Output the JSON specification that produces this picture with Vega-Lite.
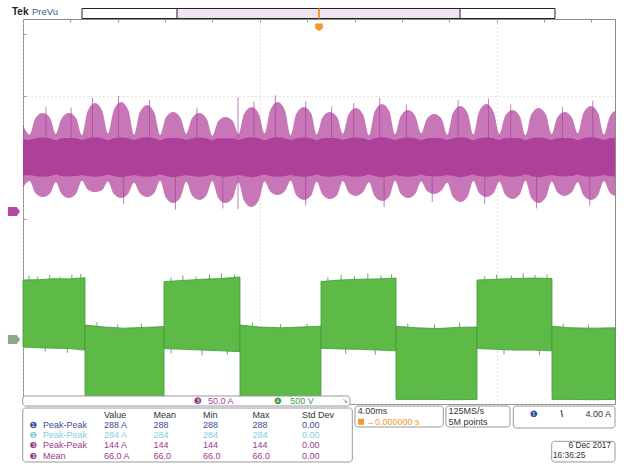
{
  "$schema": "https://vega.github.io/schema/vega-lite/v6.json",
  "width": 592,
  "height": 385,
  "autosize": {"type": "none"},
  "padding": {"left": 23, "top": 19, "right": 9, "bottom": 61},
  "background": "white",
  "config": {"view": {"stroke": "#8c8c8c"}, "font": "Liberation Sans"},
  "datasets": {
    "mag": [
      {"t": -20, "top": 2.25, "bot": 0.62, "ct": 1.88, "cb": 0.93},
      {"t": -19.551, "top": 2.0, "bot": 0.79, "ct": 1.86, "cb": 0.95},
      {"t": -19.169, "top": 2.42, "bot": 0.48, "ct": 1.9, "cb": 0.92},
      {"t": -18.669, "top": 2.558, "bot": 0.377, "ct": 1.92, "cb": 0.9},
      {"t": -18.169, "top": 2.43, "bot": 0.47, "ct": 1.9, "cb": 0.92},
      {"t": -17.787, "top": 2.02, "bot": 0.76, "ct": 1.85, "cb": 0.96},
      {"t": -17.405, "top": 2.41, "bot": 0.46, "ct": 1.9, "cb": 0.92},
      {"t": -16.905, "top": 2.558, "bot": 0.351, "ct": 1.91, "cb": 0.91},
      {"t": -16.405, "top": 2.42, "bot": 0.47, "ct": 1.9, "cb": 0.92},
      {"t": -16.024, "top": 1.98, "bot": 0.8, "ct": 1.86, "cb": 0.95},
      {"t": -15.642, "top": 2.6, "bot": 0.58, "ct": 1.9, "cb": 0.92},
      {"t": -15.142, "top": 2.818, "bot": 0.506, "ct": 1.93, "cb": 0.9},
      {"t": -14.642, "top": 2.61, "bot": 0.56, "ct": 1.9, "cb": 0.92},
      {"t": -14.26, "top": 2.03, "bot": 0.78, "ct": 1.85, "cb": 0.96},
      {"t": -13.878, "top": 2.62, "bot": 0.46, "ct": 1.9, "cb": 0.92},
      {"t": -13.378, "top": 2.844, "bot": 0.351, "ct": 1.92, "cb": 0.89},
      {"t": -12.878, "top": 2.63, "bot": 0.47, "ct": 1.9, "cb": 0.92},
      {"t": -12.497, "top": 2.0, "bot": 0.75, "ct": 1.86, "cb": 0.95},
      {"t": -12.115, "top": 2.57, "bot": 0.48, "ct": 1.9, "cb": 0.92},
      {"t": -11.615, "top": 2.766, "bot": 0.377, "ct": 1.93, "cb": 0.9},
      {"t": -11.115, "top": 2.56, "bot": 0.49, "ct": 1.9, "cb": 0.92},
      {"t": -10.733, "top": 1.99, "bot": 0.8, "ct": 1.85, "cb": 0.96},
      {"t": -10.351, "top": 2.44, "bot": 0.36, "ct": 1.9, "cb": 0.92},
      {"t": -9.851, "top": 2.584, "bot": 0.221, "ct": 1.91, "cb": 0.89},
      {"t": -9.351, "top": 2.43, "bot": 0.37, "ct": 1.9, "cb": 0.92},
      {"t": -8.97, "top": 2.02, "bot": 0.77, "ct": 1.86, "cb": 0.95},
      {"t": -8.588, "top": 2.42, "bot": 0.42, "ct": 1.9, "cb": 0.92},
      {"t": -8.088, "top": 2.558, "bot": 0.299, "ct": 1.92, "cb": 0.9},
      {"t": -7.588, "top": 2.41, "bot": 0.43, "ct": 1.9, "cb": 0.92},
      {"t": -7.206, "top": 1.97, "bot": 0.79, "ct": 1.85, "cb": 0.96},
      {"t": -6.824, "top": 2.34, "bot": 0.36, "ct": 1.9, "cb": 0.92},
      {"t": -6.324, "top": 2.455, "bot": 0.221, "ct": 1.9, "cb": 0.9},
      {"t": -5.824, "top": 2.35, "bot": 0.35, "ct": 1.9, "cb": 0.92},
      {"t": -5.443, "top": 2.01, "bot": 0.76, "ct": 1.86, "cb": 0.95},
      {"t": -5.061, "top": 2.54, "bot": 0.28, "ct": 1.9, "cb": 0.92},
      {"t": -4.561, "top": 2.714, "bot": 0.117, "ct": 1.93, "cb": 0.89},
      {"t": -4.061, "top": 2.53, "bot": 0.29, "ct": 1.9, "cb": 0.92},
      {"t": -3.679, "top": 2.03, "bot": 0.78, "ct": 1.85, "cb": 0.96},
      {"t": -3.297, "top": 2.63, "bot": 0.52, "ct": 1.9, "cb": 0.92},
      {"t": -2.797, "top": 2.844, "bot": 0.429, "ct": 1.93, "cb": 0.9},
      {"t": -2.297, "top": 2.62, "bot": 0.53, "ct": 1.9, "cb": 0.92},
      {"t": -1.916, "top": 1.99, "bot": 0.8, "ct": 1.86, "cb": 0.95},
      {"t": -1.534, "top": 2.54, "bot": 0.42, "ct": 1.9, "cb": 0.92},
      {"t": -1.034, "top": 2.714, "bot": 0.299, "ct": 1.92, "cb": 0.9},
      {"t": -0.534, "top": 2.55, "bot": 0.41, "ct": 1.9, "cb": 0.92},
      {"t": -0.152, "top": 2.0, "bot": 0.77, "ct": 1.85, "cb": 0.96},
      {"t": 0.23, "top": 2.44, "bot": 0.44, "ct": 1.9, "cb": 0.92},
      {"t": 0.73, "top": 2.584, "bot": 0.325, "ct": 1.91, "cb": 0.9},
      {"t": 1.23, "top": 2.45, "bot": 0.43, "ct": 1.9, "cb": 0.92},
      {"t": 1.612, "top": 2.02, "bot": 0.79, "ct": 1.86, "cb": 0.95},
      {"t": 1.993, "top": 2.52, "bot": 0.5, "ct": 1.9, "cb": 0.92},
      {"t": 2.493, "top": 2.688, "bot": 0.403, "ct": 1.92, "cb": 0.9},
      {"t": 2.993, "top": 2.51, "bot": 0.51, "ct": 1.9, "cb": 0.92},
      {"t": 3.375, "top": 1.98, "bot": 0.76, "ct": 1.85, "cb": 0.96},
      {"t": 3.757, "top": 2.59, "bot": 0.4, "ct": 1.9, "cb": 0.92},
      {"t": 4.257, "top": 2.792, "bot": 0.273, "ct": 1.93, "cb": 0.89},
      {"t": 4.757, "top": 2.6, "bot": 0.39, "ct": 1.9, "cb": 0.92},
      {"t": 5.139, "top": 2.01, "bot": 0.8, "ct": 1.86, "cb": 0.95},
      {"t": 5.52, "top": 2.48, "bot": 0.46, "ct": 1.9, "cb": 0.92},
      {"t": 6.02, "top": 2.636, "bot": 0.351, "ct": 1.92, "cb": 0.9},
      {"t": 6.52, "top": 2.47, "bot": 0.47, "ct": 1.9, "cb": 0.92},
      {"t": 6.902, "top": 2.03, "bot": 0.78, "ct": 1.85, "cb": 0.96},
      {"t": 7.284, "top": 2.4, "bot": 0.54, "ct": 1.9, "cb": 0.92},
      {"t": 7.784, "top": 2.532, "bot": 0.455, "ct": 1.91, "cb": 0.91},
      {"t": 8.284, "top": 2.41, "bot": 0.55, "ct": 1.9, "cb": 0.92},
      {"t": 8.666, "top": 1.99, "bot": 0.75, "ct": 1.86, "cb": 0.95},
      {"t": 9.047, "top": 2.56, "bot": 0.38, "ct": 1.9, "cb": 0.92},
      {"t": 9.547, "top": 2.74, "bot": 0.247, "ct": 1.93, "cb": 0.89},
      {"t": 10.047, "top": 2.55, "bot": 0.39, "ct": 1.9, "cb": 0.92},
      {"t": 10.429, "top": 2.0, "bot": 0.79, "ct": 1.85, "cb": 0.96},
      {"t": 10.811, "top": 2.59, "bot": 0.48, "ct": 1.9, "cb": 0.92},
      {"t": 11.311, "top": 2.792, "bot": 0.377, "ct": 1.92, "cb": 0.9},
      {"t": 11.811, "top": 2.58, "bot": 0.49, "ct": 1.9, "cb": 0.92},
      {"t": 12.193, "top": 2.02, "bot": 0.77, "ct": 1.86, "cb": 0.95},
      {"t": 12.574, "top": 2.48, "bot": 0.44, "ct": 1.9, "cb": 0.92},
      {"t": 13.074, "top": 2.636, "bot": 0.325, "ct": 1.91, "cb": 0.9},
      {"t": 13.574, "top": 2.47, "bot": 0.45, "ct": 1.9, "cb": 0.92},
      {"t": 13.956, "top": 1.98, "bot": 0.8, "ct": 1.85, "cb": 0.96},
      {"t": 14.338, "top": 2.52, "bot": 0.36, "ct": 1.9, "cb": 0.92},
      {"t": 14.838, "top": 2.688, "bot": 0.221, "ct": 1.92, "cb": 0.89},
      {"t": 15.338, "top": 2.51, "bot": 0.37, "ct": 1.9, "cb": 0.92},
      {"t": 15.72, "top": 2.01, "bot": 0.78, "ct": 1.86, "cb": 0.95},
      {"t": 16.101, "top": 2.44, "bot": 0.5, "ct": 1.9, "cb": 0.92},
      {"t": 16.601, "top": 2.584, "bot": 0.403, "ct": 1.91, "cb": 0.91},
      {"t": 17.101, "top": 2.43, "bot": 0.51, "ct": 1.9, "cb": 0.92},
      {"t": 17.483, "top": 2.03, "bot": 0.76, "ct": 1.85, "cb": 0.96},
      {"t": 17.865, "top": 2.56, "bot": 0.42, "ct": 1.9, "cb": 0.92},
      {"t": 18.365, "top": 2.74, "bot": 0.299, "ct": 1.93, "cb": 0.9},
      {"t": 18.865, "top": 2.55, "bot": 0.43, "ct": 1.9, "cb": 0.92},
      {"t": 19.247, "top": 2.0, "bot": 0.79, "ct": 1.86, "cb": 0.95},
      {"t": 19.628, "top": 2.45, "bot": 0.5, "ct": 1.9, "cb": 0.92},
      {"t": 20, "top": 2.62, "bot": 0.4, "ct": 1.91, "cb": 0.91}
    ],
    "magsp": [
      {"t": -18.45, "a": 1.9, "b": 2.72}, {"t": -16.75, "a": 1.9, "b": 2.7},
      {"t": -15.3, "a": 1.9, "b": 2.95}, {"t": -13.55, "a": 1.9, "b": 3.0},
      {"t": -13.2, "a": 0.9, "b": 0.2}, {"t": -11.45, "a": 1.9, "b": 2.9},
      {"t": -9.7, "a": 0.9, "b": 0.05}, {"t": -8.25, "a": 1.9, "b": 2.7},
      {"t": -6.5, "a": 0.9, "b": 0.08}, {"t": -5.47, "a": 1.9, "b": 2.97},
      {"t": -5.47, "a": 0.9, "b": 0.06}, {"t": -4.4, "a": 1.9, "b": 2.85},
      {"t": -2.95, "a": 1.9, "b": 3.02}, {"t": -0.9, "a": 1.9, "b": 2.85},
      {"t": -0.9, "a": 0.9, "b": 0.15}, {"t": 0.85, "a": 1.9, "b": 2.72},
      {"t": 2.35, "a": 1.9, "b": 2.82}, {"t": 4.1, "a": 1.9, "b": 2.95},
      {"t": 4.4, "a": 0.9, "b": 0.12}, {"t": 5.9, "a": 1.9, "b": 2.78},
      {"t": 7.65, "a": 0.9, "b": 0.25}, {"t": 9.4, "a": 1.9, "b": 2.9},
      {"t": 11.45, "a": 1.9, "b": 2.93}, {"t": 11.2, "a": 0.9, "b": 0.2},
      {"t": 12.95, "a": 1.9, "b": 2.78}, {"t": 14.7, "a": 0.9, "b": 0.08},
      {"t": 16.45, "a": 1.9, "b": 2.72}, {"t": 18.5, "a": 1.9, "b": 2.88},
      {"t": 18.3, "a": 0.9, "b": 0.15}
    ],
    "grn": [
      {"seg": "A", "t": -20, "top": -1.78, "bot": -3.52},
      {"seg": "A", "t": -18.9, "top": -1.77, "bot": -3.54},
      {"seg": "A", "t": -17.9, "top": -1.745, "bot": -3.55},
      {"seg": "A", "t": -16.9, "top": -1.75, "bot": -3.56},
      {"seg": "A", "t": -15.811, "top": -1.72, "bot": -3.6},
      {"seg": "B", "t": -15.811, "top": -2.95, "bot": -4.86},
      {"seg": "B", "t": -14.5, "top": -3.0, "bot": -4.86},
      {"seg": "B", "t": -13.2, "top": -3.03, "bot": -4.87},
      {"seg": "B", "t": -11.8, "top": -3.01, "bot": -4.86},
      {"seg": "B", "t": -10.473, "top": -2.99, "bot": -4.87},
      {"seg": "C", "t": -10.473, "top": -1.82, "bot": -3.56},
      {"seg": "C", "t": -9.2, "top": -1.79, "bot": -3.58},
      {"seg": "C", "t": -7.9, "top": -1.76, "bot": -3.6},
      {"seg": "C", "t": -6.6, "top": -1.74, "bot": -3.62},
      {"seg": "C", "t": -5.338, "top": -1.7, "bot": -3.64},
      {"seg": "D", "t": -5.338, "top": -2.95, "bot": -4.86},
      {"seg": "D", "t": -4.0, "top": -3.0, "bot": -4.87},
      {"seg": "D", "t": -2.6, "top": -3.02, "bot": -4.86},
      {"seg": "D", "t": -1.2, "top": -3.0, "bot": -4.87},
      {"seg": "D", "t": 0.135, "top": -2.98, "bot": -4.86},
      {"seg": "E", "t": 0.135, "top": -1.82, "bot": -3.55},
      {"seg": "E", "t": 1.4, "top": -1.78, "bot": -3.57},
      {"seg": "E", "t": 2.7, "top": -1.76, "bot": -3.58},
      {"seg": "E", "t": 4.0, "top": -1.75, "bot": -3.6},
      {"seg": "E", "t": 5.203, "top": -1.73, "bot": -3.62},
      {"seg": "F", "t": 5.203, "top": -2.98, "bot": -4.88},
      {"seg": "F", "t": 6.6, "top": -3.02, "bot": -4.88},
      {"seg": "F", "t": 8.0, "top": -3.04, "bot": -4.88},
      {"seg": "F", "t": 9.3, "top": -3.01, "bot": -4.89},
      {"seg": "F", "t": 10.676, "top": -3.0, "bot": -4.88},
      {"seg": "G", "t": 10.676, "top": -1.78, "bot": -3.56},
      {"seg": "G", "t": 11.9, "top": -1.76, "bot": -3.58},
      {"seg": "G", "t": 13.2, "top": -1.74, "bot": -3.6},
      {"seg": "G", "t": 14.5, "top": -1.73, "bot": -3.6},
      {"seg": "G", "t": 15.743, "top": -1.74, "bot": -3.62},
      {"seg": "H", "t": 15.743, "top": -2.98, "bot": -4.88},
      {"seg": "H", "t": 17.0, "top": -3.02, "bot": -4.88},
      {"seg": "H", "t": 18.5, "top": -3.03, "bot": -4.89},
      {"seg": "H", "t": 20, "top": -3.02, "bot": -4.88}
    ],
    "grnsp": [
      {"t": -19.6, "a": -1.78, "b": -1.66}, {"t": -19.0, "a": -1.77, "b": -1.69},
      {"t": -18.2, "a": -1.76, "b": -1.65}, {"t": -17.5, "a": -1.75, "b": -1.69},
      {"t": -16.7, "a": -1.75, "b": -1.64}, {"t": -16.1, "a": -1.73, "b": -1.62},
      {"t": -10.0, "a": -1.8, "b": -1.71}, {"t": -9.2, "a": -1.78, "b": -1.66},
      {"t": -8.3, "a": -1.77, "b": -1.69}, {"t": -7.4, "a": -1.76, "b": -1.64},
      {"t": -6.6, "a": -1.74, "b": -1.6}, {"t": -5.7, "a": -1.71, "b": -1.63},
      {"t": 0.6, "a": -1.8, "b": -1.71}, {"t": 1.5, "a": -1.78, "b": -1.64},
      {"t": 2.4, "a": -1.77, "b": -1.68}, {"t": 3.3, "a": -1.76, "b": -1.61},
      {"t": 4.2, "a": -1.75, "b": -1.66}, {"t": 4.9, "a": -1.73, "b": -1.63},
      {"t": 11.2, "a": -1.77, "b": -1.68}, {"t": 12.0, "a": -1.76, "b": -1.64},
      {"t": 13.0, "a": -1.74, "b": -1.66}, {"t": 13.8, "a": -1.73, "b": -1.6},
      {"t": 14.6, "a": -1.73, "b": -1.65}, {"t": 15.4, "a": -1.74, "b": -1.64},
      {"t": -15.0, "a": -2.97, "b": -2.88}, {"t": -13.6, "a": -3.02, "b": -2.93},
      {"t": -12.0, "a": -3.02, "b": -2.91}, {"t": -4.5, "a": -2.99, "b": -2.89},
      {"t": -2.6, "a": -3.02, "b": -2.93}, {"t": -0.8, "a": -3.01, "b": -2.91},
      {"t": 6.0, "a": -3.0, "b": -2.91}, {"t": 7.8, "a": -3.03, "b": -2.93},
      {"t": 9.5, "a": -3.02, "b": -2.89}, {"t": 16.5, "a": -3.0, "b": -2.91},
      {"t": 18.2, "a": -3.02, "b": -2.93},
      {"t": -18.5, "a": -3.53, "b": -3.64}, {"t": -17.0, "a": -3.55, "b": -3.67},
      {"t": -10.0, "a": -3.57, "b": -3.69}, {"t": -7.9, "a": -3.6, "b": -3.74},
      {"t": -6.2, "a": -3.62, "b": -3.72}, {"t": 1.8, "a": -3.57, "b": -3.69},
      {"t": 3.8, "a": -3.59, "b": -3.72}, {"t": 12.5, "a": -3.59, "b": -3.71},
      {"t": 14.9, "a": -3.61, "b": -3.73}
    ],
    "cells": [
      {"r": "h", "c": "Value", "v": "Value", "k": "hdr"},
      {"r": "h", "c": "Mean", "v": "Mean", "k": "hdr"},
      {"r": "h", "c": "Min", "v": "Min", "k": "hdr"},
      {"r": "h", "c": "Max", "v": "Max", "k": "hdr"},
      {"r": "h", "c": "Std Dev", "v": "Std Dev", "k": "hdr"},
      {"r": "1", "c": "Value", "v": "288 A", "k": "c1"},
      {"r": "1", "c": "Mean", "v": "288", "k": "c1"},
      {"r": "1", "c": "Min", "v": "288", "k": "c1"},
      {"r": "1", "c": "Max", "v": "288", "k": "c1"},
      {"r": "1", "c": "Std Dev", "v": "0.00", "k": "c1"},
      {"r": "2", "c": "Value", "v": "284 A", "k": "c2"},
      {"r": "2", "c": "Mean", "v": "284", "k": "c2"},
      {"r": "2", "c": "Min", "v": "284", "k": "c2"},
      {"r": "2", "c": "Max", "v": "284", "k": "c2"},
      {"r": "2", "c": "Std Dev", "v": "0.00", "k": "c2"},
      {"r": "3", "c": "Value", "v": "144 A", "k": "c3"},
      {"r": "3", "c": "Mean", "v": "144", "k": "c3"},
      {"r": "3", "c": "Min", "v": "144", "k": "c3"},
      {"r": "3", "c": "Max", "v": "144", "k": "c3"},
      {"r": "3", "c": "Std Dev", "v": "0.00", "k": "c3"},
      {"r": "4", "c": "Value", "v": "66.0 A", "k": "c3"},
      {"r": "4", "c": "Mean", "v": "66.0", "k": "c3"},
      {"r": "4", "c": "Min", "v": "66.0", "k": "c3"},
      {"r": "4", "c": "Max", "v": "66.0", "k": "c3"},
      {"r": "4", "c": "Std Dev", "v": "0.00", "k": "c3"}
    ],
    "labels": [
      {"r": "1", "lab": "Peak-Peak", "b": "❶", "k": "c1"},
      {"r": "2", "lab": "Peak-Peak", "b": "❷", "k": "c2"},
      {"r": "3", "lab": "Peak-Peak", "b": "❸", "k": "c3"},
      {"r": "4", "lab": "Mean", "b": "❸", "k": "c3"}
    ]
  },
  "resolve": {"scale": {"x": "independent", "y": "independent", "color": "independent"}},
  "layer": [
    {
      "layer": [
        {
          "data": {"name": "mag"},
          "mark": {"type": "area", "interpolate": "monotone", "color": "#b4479e", "opacity": 0.74},
          "encoding": {
            "x": {"field": "t", "type": "quantitative", "title": null,
              "scale": {"domain": [-20, 20], "nice": false, "zero": false},
              "axis": {"orient": "top", "labels": false, "domain": false, "title": null,
                "values": [-20,-19.2,-18.4,-17.6,-16.8,-16,-15.2,-14.4,-13.6,-12.8,-12,-11.2,-10.4,-9.6,-8.8,-8,-7.2,-6.4,-5.6,-4.8,-4,-3.2,-2.4,-1.6,-0.8,0,0.8,1.6,2.4,3.2,4,4.8,5.6,6.4,7.2,8,8.8,9.6,10.4,11.2,12,12.8,13.6,14.4,15.2,16,16.8,17.6,18.4,19.2,20],
                "tickSize": -3, "tickColor": "#999999",
                "grid": true,
                "gridColor": {"condition": {"test": "datum.value == 0", "value": "#999999"}, "value": "#c4c4c4"},
                "gridDash": {"condition": {"test": "datum.value == 0", "value": [1, 1]}, "value": [1, 3]},
                "gridOpacity": {"condition": {"test": "abs(datum.value/4 - round(datum.value/4)) < 0.01", "value": 1}, "value": 0}}},
            "y": {"field": "top", "type": "quantitative", "title": null,
              "scale": {"domain": [-5, 5], "nice": false, "zero": false},
              "axis": {"orient": "left", "labels": false, "domain": false, "title": null,
                "values": [-5,-4.8,-4.6,-4.4,-4.2,-4,-3.8,-3.6,-3.4,-3.2,-3,-2.8,-2.6,-2.4,-2.2,-2,-1.8,-1.6,-1.4,-1.2,-1,-0.8,-0.6,-0.4,-0.2,0,0.2,0.4,0.6,0.8,1,1.2,1.4,1.6,1.8,2,2.2,2.4,2.6,2.8,3,3.2,3.4,3.6,3.8,4,4.2,4.4,4.6,4.8,5],
                "tickSize": -3, "tickColor": "#999999",
                "grid": true,
                "gridColor": {"condition": {"test": "datum.value == 0", "value": "#999999"}, "value": "#c4c4c4"},
                "gridDash": {"condition": {"test": "datum.value == 0", "value": [1, 1]}, "value": [1, 3]},
                "gridOpacity": {"condition": {"test": "abs(datum.value - round(datum.value)) < 0.01", "value": 1}, "value": 0}}},
            "y2": {"field": "bot"}
          }
        },
        {
          "data": {"name": "magsp"},
          "mark": {"type": "rule", "color": "#a63f98", "strokeWidth": 0.8, "opacity": 0.85},
          "encoding": {
            "x": {"field": "t", "type": "quantitative", "title": null},
            "y": {"field": "a", "type": "quantitative", "title": null},
            "y2": {"field": "b"}
          }
        },
        {
          "data": {"name": "mag"},
          "mark": {"type": "area", "interpolate": "monotone", "color": "#ad4199"},
          "encoding": {
            "x": {"field": "t", "type": "quantitative", "title": null},
            "y": {"field": "ct", "type": "quantitative", "title": null},
            "y2": {"field": "cb"}
          }
        },
        {
          "data": {"name": "grn"},
          "mark": {"type": "area", "color": "#5dba47", "stroke": "#3f9a38", "strokeWidth": 0.8},
          "encoding": {
            "x": {"field": "t", "type": "quantitative", "title": null},
            "y": {"field": "top", "type": "quantitative", "title": null},
            "y2": {"field": "bot"},
            "detail": {"field": "seg"}
          }
        },
        {
          "data": {"name": "grnsp"},
          "mark": {"type": "rule", "color": "#3f9a38", "strokeWidth": 0.8},
          "encoding": {
            "x": {"field": "t", "type": "quantitative", "title": null},
            "y": {"field": "a", "type": "quantitative", "title": null},
            "y2": {"field": "b"}
          }
        },
        {
          "data": {"values": [{}]},
          "layer": [
            {"mark": {"type": "rect", "fill": "white", "stroke": "#222222", "strokeWidth": 1},
             "encoding": {"x": {"datum": -16.014}, "x2": {"datum": 15.946}, "y": {"datum": 5.273}, "y2": {"datum": 5.013}}},
            {"mark": {"type": "rect", "fill": "#f1e4f1", "stroke": "#222222", "strokeWidth": 1},
             "encoding": {"x": {"datum": -9.595}, "x2": {"datum": 9.527}, "y": {"datum": 5.273}, "y2": {"datum": 5.013}}},
            {"mark": {"type": "rule", "color": "#f29a2e", "strokeWidth": 2},
             "encoding": {"x": {"datum": 0}, "y": {"datum": 5.273}, "y2": {"datum": 5.013}}},
            {"mark": {"type": "point", "shape": "M-1,-1 L1,-1 L1,0.2 L0,1 L-1,0.2 Z", "filled": true, "color": "#f29a2e", "size": 60, "opacity": 1},
             "encoding": {"x": {"datum": 0}, "y": {"datum": 4.78}}},
            {"mark": {"type": "text", "align": "left", "baseline": "middle", "fontSize": 10, "fontWeight": "bold", "color": "#222222"},
             "encoding": {"x": {"datum": -20.743}, "y": {"datum": 5.169}, "text": {"value": "Tek"}}},
            {"mark": {"type": "text", "align": "left", "baseline": "middle", "fontSize": 9.5, "color": "#3c5a8c"},
             "encoding": {"x": {"datum": -19.392}, "y": {"datum": 5.169}, "text": {"value": "PreVu"}}},
            {"mark": {"type": "point", "shape": "M-1,-0.75 L0.45,-0.75 L1,0 L0.45,0.75 L-1,0.75 Z", "filled": true, "color": "#b04a9f", "size": 150, "opacity": 1},
             "encoding": {"x": {"datum": -20.608}, "y": {"datum": 0}}},
            {"mark": {"type": "point", "shape": "M-1,-0.75 L0.45,-0.75 L1,0 L0.45,0.75 L-1,0.75 Z", "filled": true, "color": "#8da88d", "size": 150, "opacity": 1},
             "encoding": {"x": {"datum": -20.608}, "y": {"datum": -3.325}}},
            {"mark": {"type": "rect", "fill": "white", "stroke": "#999999", "strokeWidth": 1, "cornerRadius": 3},
             "encoding": {"x": {"datum": -20.02}, "x2": {"datum": 2.095}, "y": {"datum": -4.792}, "y2": {"datum": -5.052}}},
            {"mark": {"type": "text", "align": "center", "baseline": "middle", "font": "DejaVu Sans", "fontSize": 9, "color": "#8e2f86"},
             "encoding": {"x": {"datum": -8.209}, "y": {"datum": -4.922}, "text": {"value": "❸"}}},
            {"mark": {"type": "text", "align": "left", "baseline": "middle", "fontSize": 9, "color": "#a03d96"},
             "encoding": {"x": {"datum": -7.5}, "y": {"datum": -4.922}, "text": {"value": "50.0 A"}}},
            {"mark": {"type": "text", "align": "center", "baseline": "middle", "font": "DejaVu Sans", "fontSize": 9, "color": "#2f9a3a"},
             "encoding": {"x": {"datum": -2.77}, "y": {"datum": -4.922}, "text": {"value": "❹"}}},
            {"mark": {"type": "text", "align": "left", "baseline": "middle", "fontSize": 9, "color": "#3d9e3d"},
             "encoding": {"x": {"datum": -1.95}, "y": {"datum": -4.922}, "text": {"value": "500 V"}}},
            {"mark": {"type": "text", "align": "center", "baseline": "middle", "font": "DejaVu Sans", "fontSize": 7, "color": "#3d9e3d"},
             "encoding": {"x": {"datum": 1.757}, "y": {"datum": -4.922}, "text": {"value": "↘"}}},
            {"mark": {"type": "rect", "fill": "white", "stroke": "#999999", "strokeWidth": 1, "cornerRadius": 3},
             "encoding": {"x": {"datum": -20.02}, "x2": {"datum": 2.25}, "y": {"datum": -5.104}, "y2": {"datum": -6.506}}},
            {"mark": {"type": "rect", "fill": "white", "stroke": "#999999", "strokeWidth": 1, "cornerRadius": 3},
             "encoding": {"x": {"datum": 2.432}, "x2": {"datum": 8.399}, "y": {"datum": -5.052}, "y2": {"datum": -5.597}}},
            {"mark": {"type": "text", "align": "left", "baseline": "middle", "fontSize": 9, "color": "#333333"},
             "encoding": {"x": {"datum": 2.615}, "y": {"datum": -5.185}, "text": {"value": "4.00ms"}}},
            {"mark": {"type": "point", "shape": "square", "filled": true, "color": "#f29a2e", "size": 36, "opacity": 1},
             "encoding": {"x": {"datum": 2.838}, "y": {"datum": -5.462}}},
            {"mark": {"type": "text", "align": "left", "baseline": "middle", "fontSize": 9, "color": "#f29a2e"},
             "encoding": {"x": {"datum": 3.176}, "y": {"datum": -5.462}, "text": {"value": "→0.000000 s"}}},
            {"mark": {"type": "rect", "fill": "white", "stroke": "#999999", "strokeWidth": 1, "cornerRadius": 3},
             "encoding": {"x": {"datum": 8.581}, "x2": {"datum": 12.905}, "y": {"datum": -5.052}, "y2": {"datum": -5.597}}},
            {"mark": {"type": "text", "align": "left", "baseline": "middle", "fontSize": 9, "color": "#333333"},
             "encoding": {"x": {"datum": 8.75}, "y": {"datum": -5.185}, "text": {"value": "125MS/s"}}},
            {"mark": {"type": "text", "align": "left", "baseline": "middle", "fontSize": 9, "color": "#333333"},
             "encoding": {"x": {"datum": 8.75}, "y": {"datum": -5.462}, "text": {"value": "5M points"}}},
            {"mark": {"type": "rect", "fill": "white", "stroke": "#999999", "strokeWidth": 1, "cornerRadius": 3},
             "encoding": {"x": {"datum": 13.128}, "x2": {"datum": 20}, "y": {"datum": -5.052}, "y2": {"datum": -5.623}}},
            {"mark": {"type": "text", "align": "center", "baseline": "middle", "font": "DejaVu Sans", "fontSize": 9, "color": "#2a52a8"},
             "encoding": {"x": {"datum": 14.493}, "y": {"datum": -5.26}, "text": {"value": "❶"}}},
            {"mark": {"type": "text", "align": "center", "baseline": "middle", "fontSize": 9, "fontWeight": "bold", "color": "#333333"},
             "encoding": {"x": {"datum": 16.399}, "y": {"datum": -5.26}, "text": {"value": "\\"}}},
            {"mark": {"type": "text", "align": "right", "baseline": "middle", "fontSize": 9, "color": "#333333"},
             "encoding": {"x": {"datum": 19.73}, "y": {"datum": -5.26}, "text": {"value": "4.00 A"}}},
            {"mark": {"type": "rect", "fill": "white", "stroke": "#999999", "strokeWidth": 1, "cornerRadius": 3},
             "encoding": {"x": {"datum": 15.723}, "x2": {"datum": 20}, "y": {"datum": -5.969}, "y2": {"datum": -6.506}}},
            {"mark": {"type": "text", "align": "right", "baseline": "middle", "fontSize": 8.3, "color": "#333333"},
             "encoding": {"x": {"datum": 19.73}, "y": {"datum": -6.098}, "text": {"value": "6 Dec  2017"}}},
            {"mark": {"type": "text", "align": "left", "baseline": "middle", "fontSize": 8.3, "color": "#333333"},
             "encoding": {"x": {"datum": 15.811}, "y": {"datum": -6.346}, "text": {"value": "16:36:25"}}}
          ]
        }
      ]
    },
    {
      "resolve": {"scale": {"x": "independent"}},
      "layer": [
        {
          "data": {"name": "cells"},
          "mark": {"type": "text", "align": "left", "baseline": "middle", "fontSize": 9},
          "encoding": {
            "x": {"field": "c", "type": "nominal", "axis": null,
              "scale": {"type": "point", "domain": ["Value", "Mean", "Min", "Max", "Std Dev"], "range": [81, 279], "padding": 0}},
            "y": {"field": "r", "type": "nominal", "axis": null,
              "scale": {"type": "point", "domain": ["h", "1", "2", "3", "4"], "range": [395.5, 436.5], "padding": 0}},
            "text": {"field": "v"},
            "color": {"field": "k", "type": "nominal", "legend": null,
              "scale": {"domain": ["hdr", "c1", "c2", "c3"], "range": ["#333333", "#3d4a9c", "#7dcfe0", "#993a8d"]}}
          }
        },
        {
          "data": {"name": "labels"},
          "mark": {"type": "text", "align": "left", "baseline": "middle", "fontSize": 9},
          "encoding": {
            "x": {"datum": "lbl", "type": "nominal", "axis": null,
              "scale": {"type": "point", "domain": ["lbl"], "range": [20, 20], "padding": 0}},
            "y": {"field": "r", "type": "nominal", "axis": null,
              "scale": {"type": "point", "domain": ["h", "1", "2", "3", "4"], "range": [395.5, 436.5], "padding": 0}},
            "text": {"field": "lab"},
            "color": {"field": "k", "type": "nominal", "legend": null}
          }
        },
        {
          "data": {"name": "labels"},
          "mark": {"type": "text", "align": "center", "baseline": "middle", "font": "DejaVu Sans", "fontSize": 8.5},
          "encoding": {
            "x": {"datum": "b", "type": "nominal", "axis": null,
              "scale": {"type": "point", "domain": ["b"], "range": [10, 10], "padding": 0}},
            "y": {"field": "r", "type": "nominal", "axis": null,
              "scale": {"type": "point", "domain": ["h", "1", "2", "3", "4"], "range": [395.5, 436.5], "padding": 0}},
            "text": {"field": "b"},
            "color": {"field": "k", "type": "nominal", "legend": null}
          }
        }
      ]
    }
  ]
}
